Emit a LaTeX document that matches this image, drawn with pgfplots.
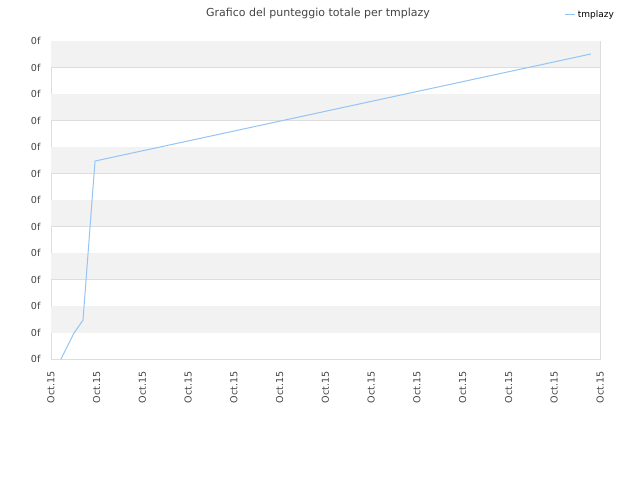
\documentclass[border=0pt]{standalone}
\usepackage{pgfplots}
\pgfplotsset{compat=1.18}
\usepackage{fontspec}
\setmainfont{DejaVu Sans}
\definecolor{linec}{HTML}{94C4F5}
\definecolor{band}{HTML}{F2F2F2}
\definecolor{gridc}{HTML}{DDDDDD}
\definecolor{txt}{HTML}{444444}
\begin{document}
\begin{tikzpicture}[x=1pt,y=1pt]
\path (0,0) rectangle (640,480);
\node[text=txt,font=\fontsize{11}{13}\selectfont] at (318,467) {Grafico del punteggio totale per tmplazy};
\begin{axis}[
  at={(51pt,121pt)}, anchor=south west,
  scale only axis, width=549pt, height=318pt,
  xmin=0, xmax=12, ymin=0, ymax=12,
  xtick={0,...,12}, ytick={0,...,12},
  xticklabels={Oct.15,Oct.15,Oct.15,Oct.15,Oct.15,Oct.15,Oct.15,Oct.15,Oct.15,Oct.15,Oct.15,Oct.15,Oct.15},
  yticklabels={0f,0f,0f,0f,0f,0f,0f,0f,0f,0f,0f,0f,0f},
  x tick label style={rotate=90, anchor=east, xshift=-9pt, font=\fontsize{9.6}{11}\selectfont, text=txt},
  y tick label style={xshift=-7pt, font=\fontsize{9.6}{11}\selectfont, text=txt},
  major tick length=0pt,
  ymajorgrids, grid style={gridc, line width=0.6pt},
  axis line style={gridc, line width=0.8pt},
  axis on top=false,
  legend style={at={(1.035,1.082)}, anchor=east, draw=none, fill=none, font=\fontsize{9}{11}\selectfont, text=black},
  legend cell align=left,
  legend image code/.code={\draw[#1] (0pt,0pt) -- (10pt,0pt);},
]
\fill[band] (axis cs:0,11) rectangle (axis cs:12,12);
\fill[band] (axis cs:0,9) rectangle (axis cs:12,10);
\fill[band] (axis cs:0,7) rectangle (axis cs:12,8);
\fill[band] (axis cs:0,5) rectangle (axis cs:12,6);
\fill[band] (axis cs:0,3) rectangle (axis cs:12,4);
\fill[band] (axis cs:0,1) rectangle (axis cs:12,2);
\addplot[linec, line width=1pt, mark=none] coordinates {
(0.219,0) (0.503,0.98) (0.70,1.47) (0.962,7.47) (11.80,11.51)
};
\addlegendentry{tmplazy}
\end{axis}
\end{tikzpicture}
\end{document}
